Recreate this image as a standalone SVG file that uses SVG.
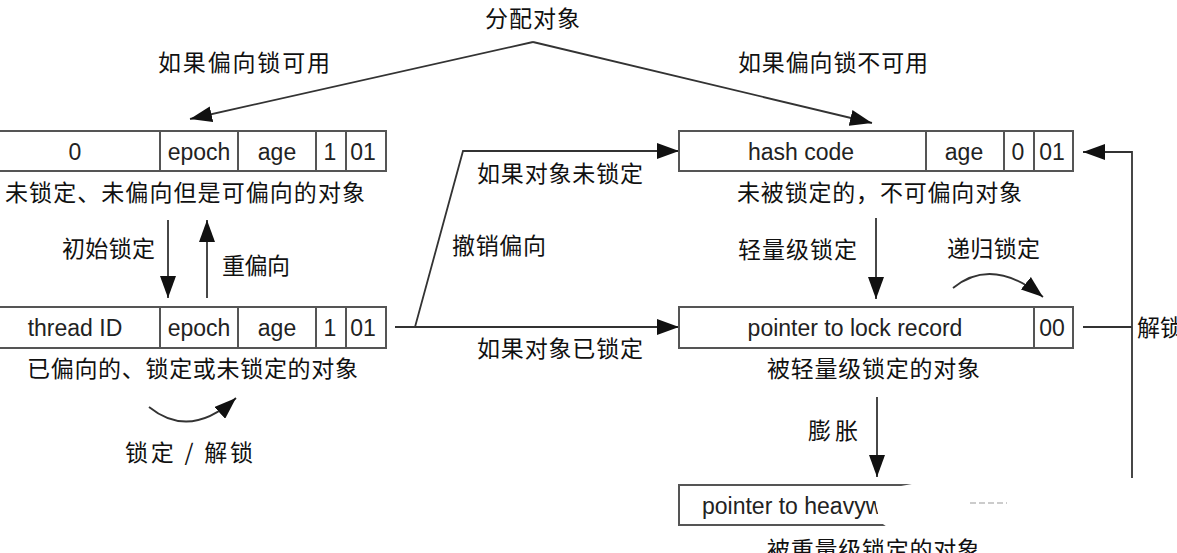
<svg xmlns="http://www.w3.org/2000/svg" width="1177" height="553" viewBox="0 0 1177 553">
<style>
.bx{fill:#fff;stroke:#555;stroke-width:2}
.dv{stroke:#555;stroke-width:2}
.ln{fill:none;stroke:#333;stroke-width:1.8}
.en{font-family:"Liberation Sans",Arial,sans-serif;font-size:23px;fill:#222;text-anchor:middle}
.cn{font-family:"Noto Sans CJK SC","Liberation Sans",sans-serif;font-size:23px;fill:#111}
</style>
<defs>
<marker id="ah" markerUnits="userSpaceOnUse" markerWidth="22" markerHeight="16" refX="22" refY="8" orient="auto">
<path d="M0,0 L22,8 L0,16 z" fill="#111"/>
</marker>
</defs>
<rect width="1177" height="553" fill="#fff"/>

<g id="connectors">
<path class="ln" d="M533,42 L190,119" marker-end="url(#ah)"/>
<path class="ln" d="M533,42 L872,123" marker-end="url(#ah)"/>
<path class="ln" d="M168,220 L168,298" marker-end="url(#ah)"/>
<path class="ln" d="M207,298 L207,220" marker-end="url(#ah)"/>
<path class="ln" d="M149,407 Q190,440 236,398" marker-end="url(#ah)"/>
<path class="ln" d="M395,327 L679,327" marker-end="url(#ah)"/>
<path class="ln" d="M415,327 L463,151 L679,151" marker-end="url(#ah)"/>
<path class="ln" d="M876,218 L876,299" marker-end="url(#ah)"/>
<path class="ln" d="M953,288 Q992,256 1043,297" marker-end="url(#ah)"/>
<path class="ln" d="M877,397 L877,477" marker-end="url(#ah)"/>
<path class="ln" d="M1132,478 L1132,152 L1083,152" marker-end="url(#ah)"/>
<path class="ln" d="M1083,327 L1132,327"/>
</g>

<g id="labels">
<text class="cn" x="485" y="27" textLength="95">分配对象</text>
<text class="cn" x="158" y="71" textLength="172">如果偏向锁可用</text>
<text class="cn" x="738" y="71" textLength="190">如果偏向锁不可用</text>
<text class="cn" x="62" y="257" textLength="93">初始锁定</text>
<text class="cn" x="222" y="274" textLength="68">重偏向</text>
<text class="cn" x="125" y="461" textLength="128">锁定 / 解锁</text>
<text class="cn" x="477" y="182" textLength="166">如果对象未锁定</text>
<text class="cn" x="452" y="254" textLength="94">撤销偏向</text>
<text class="cn" x="477" y="357" textLength="166">如果对象已锁定</text>
<text class="cn" x="738" y="258" textLength="119">轻量级锁定</text>
<text class="cn" x="947" y="257" textLength="93">递归锁定</text>
<text class="cn" x="808" y="439" textLength="50">膨胀</text>
<text class="cn" x="1137" y="336" textLength="46">解锁</text>
</g>

<g id="biasable">
<rect class="bx" x="-4" y="131" width="390" height="40"/>
<path class="dv" d="M160,131V171M238,131V171M316,131V171M346,131V171"/>
<text class="en" x="75" y="160">0</text>
<text class="en" x="199" y="160">epoch</text>
<text class="en" x="277" y="160">age</text>
<text class="en" x="330" y="160">1</text>
<text class="en" x="363" y="160">01</text>
<text class="cn" x="5" y="201" textLength="360">未锁定、未偏向但是可偏向的对象</text>
</g>

<g id="biased">
<rect class="bx" x="-4" y="307" width="390" height="41"/>
<path class="dv" d="M160,307V348M238,307V348M316,307V348M346,307V348"/>
<text class="en" x="75" y="336">thread ID</text>
<text class="en" x="199" y="336">epoch</text>
<text class="en" x="277" y="336">age</text>
<text class="en" x="330" y="336">1</text>
<text class="en" x="363" y="336">01</text>
<text class="cn" x="27" y="377" textLength="331">已偏向的、锁定或未锁定的对象</text>
</g>

<g id="unlocked">
<rect class="bx" x="679" y="131" width="394" height="40"/>
<path class="dv" d="M926,131V171M1004,131V171M1034,131V171"/>
<text class="en" x="801" y="160">hash code</text>
<text class="en" x="964" y="160">age</text>
<text class="en" x="1018" y="160">0</text>
<text class="en" x="1052" y="160">01</text>
<text class="cn" x="737" y="201" textLength="285">未被锁定的，不可偏向对象</text>
</g>

<g id="lightweight">
<rect class="bx" x="679" y="307" width="394" height="41"/>
<path class="dv" d="M1034,307V348"/>
<text class="en" x="855" y="336">pointer to lock record</text>
<text class="en" x="1052" y="336">00</text>
<text class="cn" x="767" y="377" textLength="213">被轻量级锁定的对象</text>
</g>

<g id="heavyweight">
<rect class="bx" x="679" y="485" width="394" height="40"/>
<text class="en" x="702" y="514" style="text-anchor:start">pointer to heavyw</text>
<path d="M933,480 L1180,480 L1180,531 L893,531 L880,522 L876,505 L880,490 Z" fill="#fff"/>
<path d="M970,503 L1007,503" stroke="#999" stroke-width="1" stroke-dasharray="6,3"/>
<text class="cn" x="767" y="558" textLength="213">被重量级锁定的对象</text>
</g>
</svg>
